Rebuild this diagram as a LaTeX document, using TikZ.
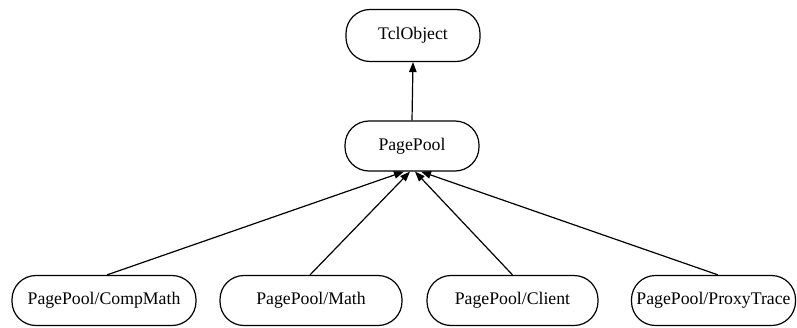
\documentclass[tikz,border=0pt]{standalone}
\usepackage{fontspec}
\setmainfont{Liberation Serif}
\usepackage{tikz}
\usetikzlibrary{arrows.meta,calc}
\tikzset{
classbox/.style={draw, rounded corners=24bp, minimum height=50bp, inner sep=0pt,
  font=\fontsize{17.8}{20}\selectfont, line width=1.2bp},
inherit/.style={line width=1.2bp, -{Triangle[length=10bp,width=7.5bp]}}
}

\begin{document}
\begin{tikzpicture}[x=1bp,y=1bp]
\useasboundingbox (0,0) rectangle (797,327);
\node[classbox, minimum width=134bp, minimum height=52bp] (tclobject) at (413,291.5) {TclObject};
\node[classbox, minimum width=134bp] (pagepool) at (412,181) {PagePool};
\node[classbox, minimum width=184bp] (compmath) at (104,26.5) {PagePool/CompMath};
\node[classbox, minimum width=182bp] (math) at (311,26.5) {PagePool/Math};
\node[classbox, minimum width=171bp] (client) at (512.5,26.5) {PagePool/Client};
\node[classbox, minimum width=164bp] (proxytrace) at (713.5,26.5) {PagePool/ProxyTrace};

\draw[inherit] (pagepool.north) -- (tclobject.south);
\draw[inherit] ([xshift=3bp]compmath.north) -- ([xshift=-8bp]pagepool.south);
\draw[inherit] ([xshift=-1bp]math.north) -- ([xshift=-2bp]pagepool.south);
\draw[inherit] (client.north) -- ([xshift=3bp]pagepool.south);
\draw[inherit] ([xshift=4.5bp]proxytrace.north) -- ([xshift=9bp]pagepool.south);
\end{tikzpicture}
\end{document}
